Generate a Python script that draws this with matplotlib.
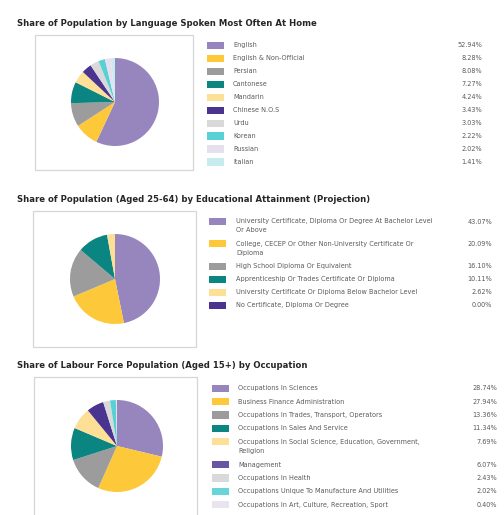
import matplotlib
matplotlib.use("Agg")
import matplotlib.pyplot as plt
from matplotlib.patches import Rectangle

# Language spoken most often at home
lang_labels = ["English", "English & Non-Official", "Persian", "Cantonese", "Mandarin",
               "Chinese N.O.S", "Urdu", "Korean", "Russian", "Italian"]
lang_values = [52.94, 8.28, 8.08, 7.27, 4.24, 3.43, 3.03, 2.22, 2.02, 1.41]

# Educational attainment, aged 25-64
edu_labels = ["University Certificate, Diploma Or Degree At Bachelor Level\nOr Above",
              "College, CECEP Or Other Non-University Certificate Or\nDiploma",
              "High School Diploma Or Equivalent",
              "Apprenticeship Or Trades Certificate Or Diploma",
              "University Certificate Or Diploma Below Bachelor Level",
              "No Certificate, Diploma Or Degree"]
edu_values = [43.07, 20.09, 16.10, 10.11, 2.62, 0.00]

# Labour force by occupation, aged 15+
occ_labels = ["Occupations In Sciences", "Business Finance Administration",
              "Occupations In Trades, Transport, Operators",
              "Occupations In Sales And Service",
              "Occupations In Social Science, Education, Government,\nReligion",
              "Management", "Occupations In Health",
              "Occupations Unique To Manufacture And Utilities",
              "Occupations In Art, Culture, Recreation, Sport"]
occ_values = [28.74, 27.94, 13.36, 11.34, 7.69, 6.07, 2.43, 2.02, 0.40]

palette = ["#9785bd", "#fdc93a", "#9c9c9c", "#0b8582", "#fddf95",
           "#4a3490", "#d9d9d9", "#58d0d4", "#e6e0ee", "#c8ecee"]
occ_swatches = palette[:5] + ["#6a55a3", "#d9d9d9", "#6ad5d9", "#e9e4f0"]

W, H = 504, 515
fig = plt.figure(figsize=(W / 100, H / 100), dpi=100)
bg = fig.add_axes([0, 0, 1, 1])
bg.set_xlim(0, W)
bg.set_ylim(H, 0)
bg.axis("off")

TEXT = "#5a5a5a"


def section(title, title_y, box, center, radius, labels, values, colors,
            first_row, step, swatch_x, text_x, pct_x, swatches=None):
    swatches = swatches or colors
    bg.text(17, title_y, title, fontsize=6.15, fontweight="bold", color="#262626",
            va="center", ha="left")
    x0, y0, x1, y1 = box
    bg.add_patch(Rectangle((x0, y0), x1 - x0, y1 - y0, facecolor="white",
                           edgecolor="#d6d6d6", linewidth=0.9))

    cx, cy = center
    pax = fig.add_axes([(cx - radius) / W, (H - cy - radius) / H,
                        2 * radius / W, 2 * radius / H])
    pax.pie(values, colors=colors[:len(values)], startangle=90, counterclock=False,
            radius=1, wedgeprops=dict(linewidth=0))
    pax.set_xlim(-1, 1)
    pax.set_ylim(-1, 1)
    pax.set_aspect("auto")
    pax.axis("off")

    y = first_row
    for label, val, col in zip(labels, values, swatches):
        bg.add_patch(Rectangle((swatch_x, y - 3.6), 17, 7.2, facecolor=col,
                               edgecolor="none"))
        lines = label.split("\n")
        for k, line in enumerate(lines):
            bg.text(text_x, y + k * 9, line, fontsize=4.7, color=TEXT,
                    va="center", ha="left")
        bg.text(pct_x, y, f"{val:.2f}%", fontsize=4.7, color=TEXT,
                va="center", ha="right")
        y += step + 9.3 * (len(lines) - 1)
    return y


section("Share of Population by Language Spoken Most Often At Home", 23,
        (35, 35, 193, 170), (115, 102), 44,
        lang_labels, lang_values, palette,
        45.3, 12.97, 207, 233, 482)

section("Share of Population (Aged 25-64) by Educational Attainment (Projection)", 199,
        (33, 211, 196, 347), (115, 279), 45,
        edu_labels, edu_values, palette,
        221.5, 13.0, 209, 236, 492)

last_y = section("Share of Labour Force Population (Aged 15+) by Occupation", 366,
                 (34, 377, 197, 520), (117, 446), 46,
                 occ_labels, occ_values, palette,
                 388.3, 13.4, 212, 238, 497, swatches=occ_swatches)

# next legend row runs off the bottom edge
bg.add_patch(Rectangle((212, last_y - 3.6), 17, 7.2, facecolor="#c8ecee",
                       edgecolor="none"))

fig.savefig("out.png", dpi=100)
